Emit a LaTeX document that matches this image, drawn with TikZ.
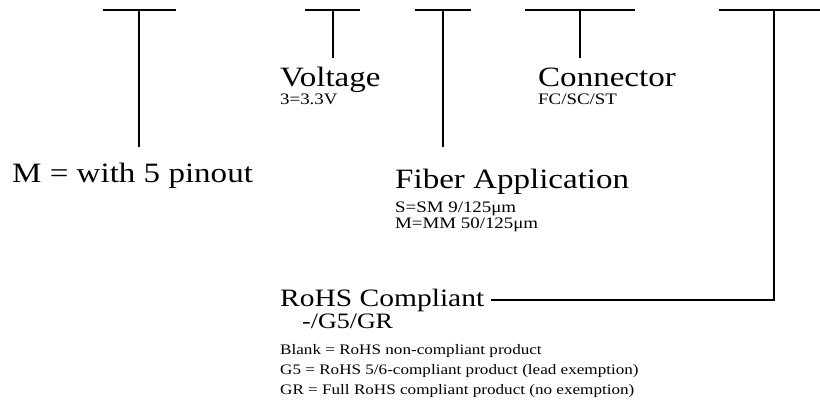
\documentclass[tikz,border=0pt]{standalone}
\usepackage{fontspec}
\setmainfont[FakeStretch=1.18]{Liberation Serif}
\begin{document}
\begin{tikzpicture}[x=1pt,y=-1pt,
  bar/.style={line width=2pt},
  stem/.style={line width=2.6pt},
  big/.style={anchor=base west,inner sep=0pt,font=\fontsize{28}{30}\selectfont},
  small/.style={anchor=base west,inner sep=0pt,font=\fontsize{14.5}{17}\selectfont},
  smallb/.style={small,font=\fontsize{16}{18}\selectfont}]
\useasboundingbox (0,0) rectangle (820,408);
% T bars
\coordinate (b1l) at (103,10); \coordinate (b1r) at (176,10);
\coordinate (b1t) at (139,10); \coordinate (b1e) at (139,147);
\coordinate (b2l) at (305,10); \coordinate (b2r) at (360,10);
\coordinate (b2t) at (333,10); \coordinate (b2e) at (333,58);
\coordinate (b3l) at (415,10); \coordinate (b3r) at (471,10);
\coordinate (b3t) at (443,10); \coordinate (b3e) at (443,147);
\coordinate (b4l) at (525,10); \coordinate (b4r) at (635,10);
\coordinate (b4t) at (580,10); \coordinate (b4e) at (580,58);
\coordinate (b5l) at (719,10); \coordinate (b5r) at (820,10);
\coordinate (b5t) at (774,10); \coordinate (b5c) at (774,300);
\draw[bar] (b1l) -- (b1r); \draw[stem] (b1t) -- (b1e);
\draw[bar] (b2l) -- (b2r); \draw[stem] (b2t) -- (b2e);
\draw[bar] (b3l) -- (b3r); \draw[stem] (b3t) -- (b3e);
\draw[bar] (b4l) -- (b4r); \draw[stem] (b4t) -- (b4e);
\draw[bar] (b5l) -- (b5r);
% texts
\node[big] (pin) at (12,182) {M = with 5 pinout};
\node[big] (volt) at (280,86) {Voltage};
\node[smallb] (voltv) at (280,104) {3=3.3V};
\node[big] (conn) at (538,86) {Connector};
\node[smallb] (connv) at (538,104) {FC/SC/ST};
\node[big] (fib) at (395,188) {Fiber Application};
\node[smallb] (fibv1) at (395,212) {S=SM 9/125μm};
\node[smallb] (fibv2) at (395,228) {M=MM 50/125μm};
\node[big,font=\fontsize{25}{28}\selectfont] (rohs) at (280,306) {RoHS Compliant};
\node[anchor=base west,inner sep=0pt,font=\fontsize{22}{24}\selectfont] (rohsv) at (302,328) {-/G5/GR};
\node[small] (rohsd1) at (280,354) {Blank = RoHS non-compliant product};
\node[small] (rohsd2) at (280,374) {G5 = RoHS 5/6-compliant product (lead exemption)};
\node[small] (rohsd3) at (280,394) {GR = Full RoHS compliant product (no exemption)};
\draw[stem] (b5t) -- (b5c) -- ([xshift=7pt]rohs.east |- b5c);
\end{tikzpicture}
\end{document}
